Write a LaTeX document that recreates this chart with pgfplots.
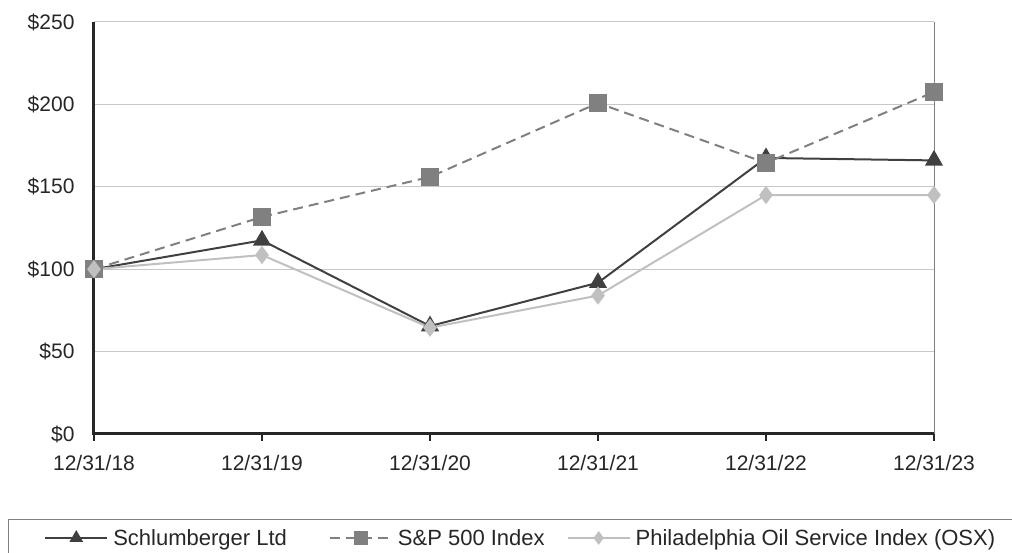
\documentclass[border=0pt]{standalone}
\usepackage{pgfplots}
\pgfplotsset{compat=1.18}
\usepackage{fontspec}
\setmainfont{Liberation Sans}
\definecolor{slb}{HTML}{404040}
\definecolor{spx}{HTML}{808080}
\definecolor{osx}{HTML}{C0C0C0}
\definecolor{gridc}{HTML}{C8C8C8}
\definecolor{framec}{HTML}{808080}
\begin{document}
\begin{tikzpicture}
\useasboundingbox (-94pt,-119pt) rectangle (918pt,434pt);
\begin{axis}[
  at={(0pt,0pt)}, anchor=south west,
  scale only axis, width=840pt, height=412pt,
  xmin=0, xmax=5, ymin=0, ymax=250,
  xtick={0,1,2,3,4,5},
  xticklabels={12/31/18,12/31/19,12/31/20,12/31/21,12/31/22,12/31/23},
  ytick={0,50,100,150,200,250},
  yticklabel={\$\pgfmathprintnumber{\tick}},
  /pgf/number format/assume math mode=true,
  tick label style={font=\fontsize{21}{25}\selectfont, text=black!85},
  ymajorgrids, grid style={color=gridc, line width=1pt},
  axis line style={draw=none},
  xtick pos=bottom, ytick pos=left,
  tick align=outside,
  major tick length=7pt,
  xtick style={black!85, line width=2pt},
  ytick style={draw=none},
  yticklabel style={xshift=-9pt},
  xticklabel style={yshift=-11pt},
  clip=false,
  legend columns=3,
  legend style={draw=none, fill=none, at={(-0.063,-0.2524)}, anchor=west,
    font=\fontsize{22}{26}\selectfont, text=black!85,
    /tikz/column 1/.style={column sep=3pt},
    /tikz/column 3/.style={column sep=3pt},
    /tikz/column 5/.style={column sep=3pt},
    /tikz/column 2/.style={column sep=40pt},
    /tikz/column 4/.style={column sep=20pt}},
  legend image code/.code={\draw[mark repeat=2,mark phase=2,every mark/.append style={scale=0.7}] plot coordinates {(0pt,0pt)(31pt,0pt)(62pt,0pt)};},
]
\draw[gridc, line width=1pt] (rel axis cs:0,1) -- (rel axis cs:1,1);
\draw[framec, line width=1pt] (rel axis cs:1,0) -- (rel axis cs:1,1);
\addplot[slb, line width=2pt, mark=triangle*, mark size=8.5pt, mark options={solid, fill=slb}]
  coordinates {(0,100) (1,117.5) (2,65.5) (3,91.8) (4,167.5) (5,166)};
\addlegendentry{Schlumberger Ltd}
\addplot[spx, line width=2pt, dash pattern=on 10pt off 6pt, mark=square*, mark size=8pt, mark options={solid, fill=spx}]
  coordinates {(0,100) (1,131.7) (2,156) (3,200.8) (4,164.5) (5,207.5)};
\addlegendentry{S\&P 500 Index}
\addplot[osx, line width=2pt, mark=diamond*, mark size=7.5pt, mark options={solid, fill=osx}]
  coordinates {(0,100) (1,108.6) (2,64.5) (3,84) (4,145) (5,145)};
\addlegendentry{Philadelphia Oil Service Index (OSX)}
\draw[black!85, line width=3pt] (rel axis cs:0,1) -- (rel axis cs:0,0) -- (rel axis cs:1,0);
\end{axis}
\draw[framec, line width=1pt] (-85pt,-86pt) rectangle (930pt,-140pt);
\end{tikzpicture}
\end{document}
